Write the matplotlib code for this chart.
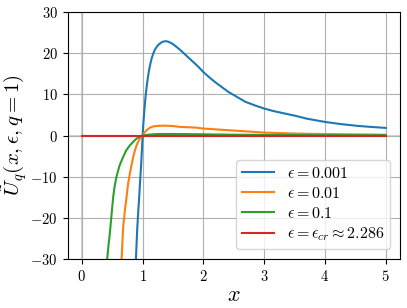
import matplotlib
matplotlib.use('Agg')
import matplotlib.pyplot as plt

plt.rcParams['font.family'] = 'serif'
plt.rcParams['font.serif'] = ['cmr10']
plt.rcParams['mathtext.fontset'] = 'cm'
plt.rcParams['axes.formatter.use_mathtext'] = True

# values
x_e001 = [0.89, 0.91, 0.93, 0.944, 0.955, 0.967, 0.978, 0.988, 1.0, 1.01, 1.02, 1.03, 1.038,
          1.05, 1.066, 1.08, 1.095, 1.11, 1.13, 1.15, 1.175, 1.2, 1.23, 1.257, 1.29, 1.32,
          1.35, 1.38, 1.41, 1.45, 1.5, 1.56, 1.64, 1.72, 1.8, 1.86, 1.93, 2.0, 2.1, 2.19,
          2.3, 2.41, 2.55, 2.69, 2.85, 3.0, 3.15, 3.29, 3.51, 3.70, 3.85, 4.0, 4.25, 4.53,
          4.75, 5.0]
y_e001 = [-30, -23, -18.0, -14.9, -12.0, -9.2, -6.4, -3.6, 0, 2.5, 4.5, 6.4, 7.8,
          9.7, 11.8, 13.4, 14.9, 16.2, 17.6, 18.8, 19.9, 20.8, 21.5, 22.0, 22.4, 22.7,
          22.85, 22.9, 22.85, 22.6, 22.2, 21.5, 20.5, 19.4, 18.3, 17.5, 16.5, 15.4, 14.1, 13.0,
          11.8, 10.6, 9.4, 8.2, 7.3, 6.55, 5.95, 5.5, 4.8, 4.1, 3.7, 3.3, 2.8, 2.35,
          2.1, 1.85]

x_e01 = [0.654, 0.68, 0.71, 0.736, 0.76, 0.79, 0.82, 0.845, 0.87, 0.9, 0.93, 0.955, 0.98, 1.0,
         1.03, 1.066, 1.12, 1.175, 1.25, 1.37, 1.5, 1.61, 1.86, 2.0, 2.41, 3.0, 3.5, 4.0, 4.5, 5.0]
y_e01 = [-30, -22.2, -18.0, -14.9, -11.8, -9.2, -7.0, -5.2, -3.8, -2.4, -1.4, -0.73, -0.25, 0,
         0.7, 1.3, 1.9, 2.2, 2.35, 2.4, 2.3, 2.1, 1.94, 1.7, 1.29, 0.72, 0.48, 0.36, 0.28, 0.2]

x_e1 = [0.417, 0.44, 0.46, 0.49, 0.516, 0.54, 0.57, 0.62, 0.68, 0.73, 0.79, 0.85, 0.9, 0.95, 1.0,
        1.1, 1.2, 1.35, 1.6, 2.0, 2.5, 3.0, 4.0, 5.0]
y_e1 = [-30, -26.5, -23.8, -19.0, -14.9, -12.3, -10.0, -7.3, -5.2, -3.6, -2.4, -1.45, -0.75, -0.3, 0,
        0.2, 0.33, 0.38, 0.36, 0.3, 0.2, 0.15, 0.09, 0.06]

x_cr = [0, 5]
y_cr = [0, 0]

fig = plt.figure(figsize=(4.07, 3.08), dpi=100)
ax = fig.add_axes([0.166, 0.159, 0.817, 0.802])
ax.grid(True, color='#b0b0b0', lw=0.8)
ax.axhline(0, color='lightgray', lw=1.5, zorder=1)
ax.axvline(0, color='lightgray', lw=1.5, zorder=1)
ax.axvline(1, color='gray', ls=':', lw=0.8, zorder=1)

ax.plot(x_e001, y_e001, color='C0', lw=1.5, label=r'$\epsilon = 0.001$')
ax.plot(x_e01, y_e01, color='C1', lw=1.5, label=r'$\epsilon = 0.01$')
ax.plot(x_e1, y_e1, color='C2', lw=1.5, label=r'$\epsilon = 0.1$')
ax.plot(x_cr, y_cr, color='C3', lw=1.5, label=r'$\epsilon = \epsilon_{cr} \approx 2.286$')

ax.set_ylim(-30, 30)
ax.set_xlim(-0.235, 5.236)
ax.set_yticks([-30, -20, -10, 0, 10, 20, 30])
ax.tick_params(labelsize=10.5)
ax.set_xlabel(r'$x$', fontsize=16, labelpad=1)
ax.set_ylabel(r'$\tilde{U}_q(x, \epsilon, q = 1)$', fontsize=15, labelpad=1)
ax.legend(loc='lower right', fontsize=11.5, labelspacing=0.3, borderaxespad=0.6)

fig.savefig('out.png', dpi=100)
